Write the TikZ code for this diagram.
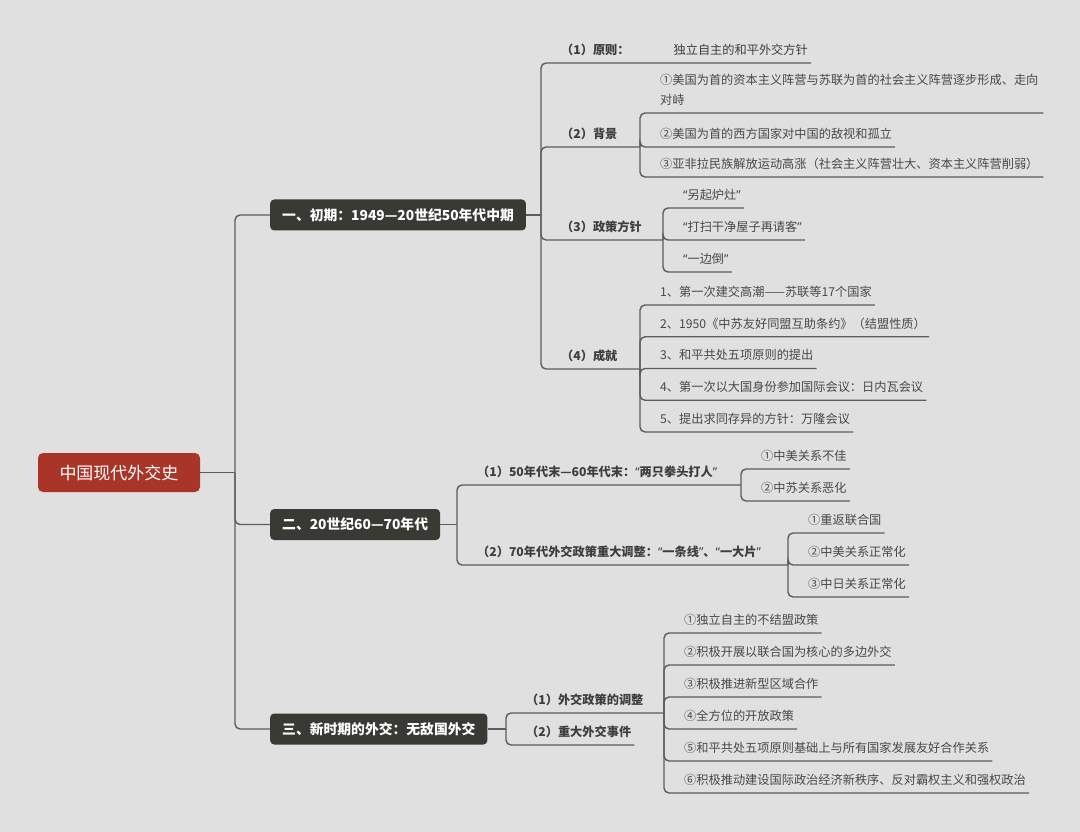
\documentclass[tikz,border=0pt]{standalone}
\usepackage{fontspec}
\setmainfont{Noto Sans CJK SC}
\newfontfamily\quotefont{Noto Sans}
\newcommand{\lquo}{{\quotefont “}}
\newcommand{\rquo}{{\quotefont ”}}
\usetikzlibrary{positioning,calc}
\definecolor{canvas}{RGB}{224,224,224}
\definecolor{rootred}{RGB}{168,53,39}
\definecolor{boxdark}{RGB}{58,58,52}
\definecolor{linegrey}{RGB}{92,92,92}
\definecolor{txtgrey}{RGB}{72,72,72}
\definecolor{headgrey}{RGB}{62,62,62}

\begin{document}
\begin{tikzpicture}[x=1pt,y=-1pt,
  link/.style={draw=linegrey, line width=1.4pt, rounded corners=5pt},
  rootbox/.style={fill=rootred, rounded corners=5pt, text=white, font=\fontsize{17}{20}\selectfont,
    minimum width=162pt, minimum height=39pt},
  topic/.style={anchor=west, fill=boxdark, rounded corners=4pt, text=white,
    font=\fontsize{13.8}{16}\selectfont\bfseries, inner xsep=12pt, minimum height=31pt},
  leaf/.style={anchor=south west, inner xsep=3pt, inner ysep=8.5pt, text depth=0pt, align=left,
    text=txtgrey, font=\fontsize{12.2}{20}\selectfont},
  head/.style={leaf, text=headgrey, font=\fontsize{12.2}{20}\selectfont\bfseries}]

% ===== canvas 1080 x 832 =====
\fill[canvas] (0,0) rectangle (1080,832);
\useasboundingbox (0,0) rectangle (1080,832);

% ===== root and main topics =====
\node[rootbox] (root) at (119,472.5) {中国现代外交史};
\coordinate (sp0) at (235,472.5);
\node[topic] (t1) at (270,215) {一、初期：1949—20世纪50年代中期};
\node[topic] (t2) at (270,524.5) {二、20世纪60—70年代};
\node[topic] (t3) at (270,729) {三、新时期的外交：无敌国外交};
\draw[link] (root.east) -- (sp0);
\foreach \t in {t1,t2,t3} \draw[link] (sp0) |- (\t.west);

% ============ TOPIC 1 ============
\coordinate (sp1) at (541,215);
\draw[link] (t1.east) -- (sp1);

% (1) principle
\node[head] (yz) at (558,63) {（1）原则：\hspace{44pt}\mdseries 独立自主的和平外交方针};
\draw[link] (sp1) |- (yz.south east);

% (2) background
\node[head] (bj) at (558,147) {（2）背景};
\coordinate (bjj) at (640,147);
\draw[link] (sp1) |- (bj.south west) -- (bjj);
\node[leaf, text width=380pt, text depth=20pt] (bj1) at (657,113) {①美国为首的资本主义阵营与苏联为首的社会主义阵营逐步形成、走向\\对峙};
\node[leaf] (bj2) at (657,147) {②美国为首的西方国家对中国的敌视和孤立};
\node[leaf, text width=380pt] (bj3) at (657,177) {③亚非拉民族解放运动高涨（社会主义阵营壮大、资本主义阵营削弱）};
\foreach \i in {1,2,3} \draw[link] (bjj) |- (bj\i.south east);

% (3) policy
\node[head] (zc) at (558,240) {（3）政策方针};
\coordinate (zcj) at (663,240);
\draw[link] (sp1) |- (zc.south west) -- (zcj);
\foreach \t [count=\i] in {\lquo 另起炉灶\rquo,\lquo 打扫干净屋子再请客\rquo,\lquo 一边倒\rquo}{
  \node[leaf] (zc\i) at (680,{208+32*(\i-1)}) {\t};
  \draw[link] (zcj) |- (zc\i.south east);
}

% (4) achievements
\node[head] (cj) at (558,369) {（4）成就};
\coordinate (cjj) at (640,369);
\draw[link] (sp1) |- (cj.south west) -- (cjj);
\foreach \t [count=\i] in {{1、第一次建交高潮——苏联等17个国家},{2、1950《中苏友好同盟互助条约》（结盟性质）},
  {3、和平共处五项原则的提出},{4、第一次以大国身份参加国际会议：日内瓦会议},{5、提出求同存异的方针：万隆会议}}{
  \node[leaf] (cj\i) at (657,{305+31.75*(\i-1)}) {\t};
  \draw[link] (cjj) |- (cj\i.south east);
}

% ============ TOPIC 2 ============
\coordinate (sp2) at (457,524.5);
\draw[link] (t2.east) -- (sp2);

\node[head] (lq) at (474,485) {（1）50年代末—60年代末：\lquo 两只拳头打人\rquo};
\coordinate (lqj) at (741,485);
\draw[link] (sp2) |- (lq.south west) -- (lqj);
\foreach \t [count=\i] in {①中美关系不佳,②中苏关系恶化}{
  \node[leaf] (lq\i) at (758,{469+32*(\i-1)}) {\t};
  \draw[link] (lqj) |- (lq\i.south east);
}

\node[head] (tz) at (474,565) {（2）70年代外交政策重大调整：\lquo 一条线\rquo、\lquo 一大片\rquo};
\coordinate (tzj) at (788,565);
\draw[link] (sp2) |- (tz.south west) -- (tzj);
\foreach \t [count=\i] in {①重返联合国,②中美关系正常化,③中日关系正常化}{
  \node[leaf] (tz\i) at (805,{533+32*(\i-1)}) {\t};
  \draw[link] (tzj) |- (tz\i.south east);
}

% ============ TOPIC 3 ============
\coordinate (sp3) at (506,729);
\draw[link] (t3.east) -- (sp3);

\node[head] (wj) at (523,713) {（1）外交政策的调整};
\coordinate (wjj) at (664,713);
\draw[link] (sp3) |- (wj.south west) -- (wjj);
\foreach \t [count=\i] in {①独立自主的不结盟政策,②积极开展以联合国为核心的多边外交,③积极推进新型区域合作,
  ④全方位的开放政策,⑤和平共处五项原则基础上与所有国家发展友好合作关系,⑥积极推动建设国际政治经济新秩序、反对霸权主义和强权政治}{
  \node[leaf] (wj\i) at (681,{633+32*(\i-1)}) {\t};
  \draw[link] (wjj) |- (wj\i.south east);
}

\node[head] (sj) at (523,745) {（2）重大外交事件};
\draw[link] (sp3) |- (sj.south east);

\end{tikzpicture}
\end{document}
